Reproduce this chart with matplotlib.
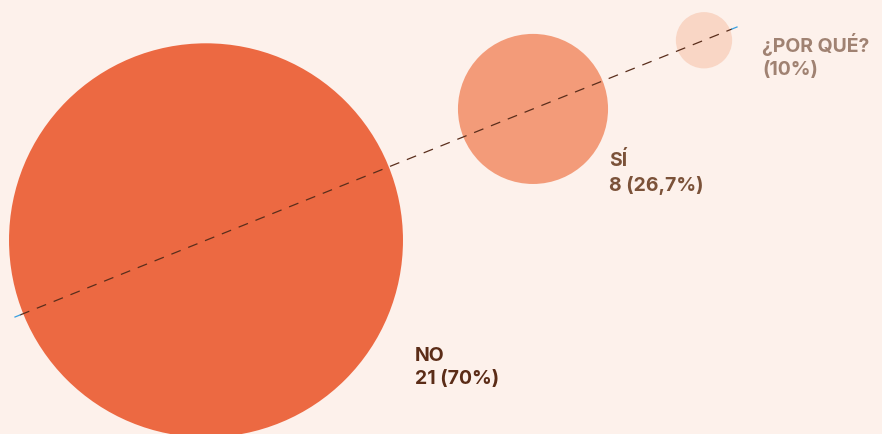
import matplotlib.pyplot as plt
from matplotlib.patches import Circle

# Datos
categorias = ['NO', 'SÍ', '¿POR QUÉ?']
valores = [21, 8, 3]
etiquetas = ['21 (70%)', '8 (26,7%)', '(10%)']
colores = ['#ec6942', '#f39b79', '#f9d6c5']
colores_texto = ['#5b2c17', '#7b5239', '#a08272']
pos_x = [206, 533, 704]

# Recta sobre la que se colocan los centros (en pixeles)
x0, y0, x1, y1 = 15, 318, 737, 28
pendiente = (y1 - y0) / (x1 - x0)
escala = 9.38  # radio en px por unidad

W, H = 882, 435
fig = plt.figure(figsize=(W / 100, H / 100), dpi=100)
fig.patch.set_facecolor('#fdf1eb')
ax = fig.add_axes([0, 0, 1, 1])
ax.set_facecolor('#fdf1eb')
ax.set_xlim(0, W)
ax.set_ylim(H, 0)
ax.set_aspect('equal')
ax.axis('off')

plt.rcParams['font.family'] = ['Inter', 'DejaVu Sans']

for i, cat in enumerate(categorias):
    cx = pos_x[i]
    cy = y0 + pendiente * (cx - x0)
    r = valores[i] * escala
    ax.add_patch(Circle((cx, cy), r, color=colores[i], lw=0, zorder=1))

# linea discontinua
ax.plot([x0 + 5, x1 - 5], [y0 + 5 * pendiente, y1 - 5 * pendiente],
        ls=(0, (8, 6.5)), color='#5a2e1c', lw=0.9, zorder=2)
ax.plot([x0, x0 + 5], [y0, y0 + 5 * pendiente], color='#3aa0e0', lw=0.9, zorder=2)
ax.plot([x1 - 5, x1], [y1 - 5 * pendiente, y1], color='#3aa0e0', lw=0.9, zorder=2)

# etiquetas
pos_texto = [(415, 347), (609, 151), (762, 33)]
for i, cat in enumerate(categorias):
    tx, ty = pos_texto[i]
    txt = cat + '\n' + etiquetas[i]
    ax.text(tx, ty, txt, color=colores_texto[i], fontsize=14, fontweight='bold',
            va='top', ha='left', linespacing=1.38, zorder=3)

plt.savefig('out.png', dpi=100, facecolor=fig.get_facecolor())
